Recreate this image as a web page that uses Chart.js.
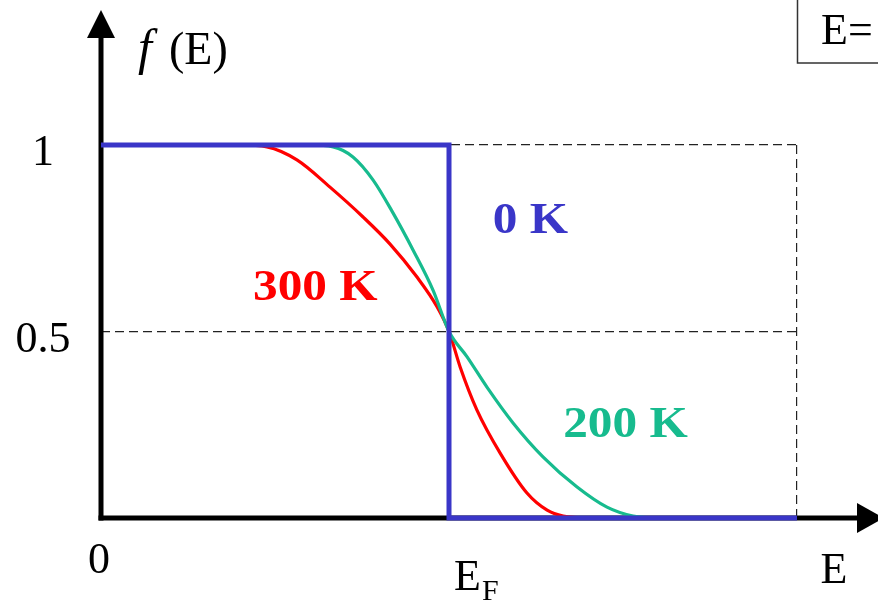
<!DOCTYPE html>
<html>
<head>
<meta charset="utf-8">
<title>f(E)</title>
<script src="https://cdn.jsdelivr.net/npm/chart.js@4"></script>
<style>
  html, body { margin: 0; padding: 0; background: #fff; }
  canvas { display: block; }
</style>
</head>
<body>
<canvas id="fermiChart" width="878" height="600"></canvas>
<script>
// البيانات: الطاقة بوحدات E_F (E_F = 1)
const curve0K = [
  { x: 0, y: 1 }, { x: 1, y: 1 }, { x: 1, y: 0 }, { x: 2, y: 0 }
];
const curve300K = [
  { x: 0, y: 1 }, { x: 0.40, y: 1 }, { x: 0.477, y: 0.995 }, { x: 0.563, y: 0.960 },
  { x: 0.658, y: 0.887 }, { x: 0.753, y: 0.807 }, { x: 0.830, y: 0.735 },
  { x: 0.908, y: 0.646 }, { x: 0.966, y: 0.566 }, { x: 1.0, y: 0.5 },
  { x: 1.032, y: 0.405 }, { x: 1.080, y: 0.290 }, { x: 1.147, y: 0.174 },
  { x: 1.224, y: 0.067 }, { x: 1.282, y: 0.021 }, { x: 1.328, y: 0.005 },
  { x: 1.40, y: 0 }, { x: 2, y: 0 }
];
const curve200K = [
  { x: 0, y: 1 }, { x: 0.60, y: 1 }, { x: 0.667, y: 0.995 }, { x: 0.724, y: 0.968 },
  { x: 0.782, y: 0.906 }, { x: 0.839, y: 0.818 }, { x: 0.897, y: 0.718 },
  { x: 0.954, y: 0.611 }, { x: 1.0, y: 0.5 }, { x: 1.052, y: 0.432 },
  { x: 1.109, y: 0.351 }, { x: 1.184, y: 0.255 }, { x: 1.270, y: 0.164 },
  { x: 1.368, y: 0.083 }, { x: 1.454, y: 0.029 }, { x: 1.529, y: 0.005 },
  { x: 1.60, y: 0 }, { x: 2, y: 0 }
];

// تسميات المحاور
const yTickValues = [1, 0.5];
const yTickLabels = ['1', '0.5'];
const xTickValues = [0, 1, 2];
const xTickLabels = ['0', 'E', 'E'];   // E_F و E

// تسميات المنحنيات (موضعها بإحداثيات البيانات)
const curveLabels = [
  { text: '0 K', x: 1.126, y: 0.764, color: '#3a36c8' },
  { text: '300 K', x: 0.437, y: 0.584, color: '#ff0000' },
  { text: '200 K', x: 1.328, y: 0.217, color: '#17bb8e' }
];

const SERIF = '"Liberation Serif", "DejaVu Serif", serif';

// رسم المحاور والنصوص
const axesPlugin = {
  id: 'axesPlugin',
  beforeDatasetsDraw(chart) {
    const ctx = chart.ctx;
    const xs = chart.scales.x;
    const ys = chart.scales.y;
    const x0 = xs.getPixelForValue(0);
    const y0 = ys.getPixelForValue(0);

    ctx.save();
    ctx.fillStyle = '#000';
    ctx.strokeStyle = '#000';
    ctx.lineWidth = 5;
    ctx.lineCap = 'butt';

    // المحور الرأسي مع السهم
    ctx.beginPath();
    ctx.moveTo(x0, y0 + 2.5);
    ctx.lineTo(x0, 36);
    ctx.stroke();
    ctx.beginPath();
    ctx.moveTo(x0, 10);
    ctx.lineTo(x0 - 14, 38);
    ctx.lineTo(x0 + 14, 38);
    ctx.closePath();
    ctx.fill();

    // المحور الأفقي مع السهم
    ctx.beginPath();
    ctx.moveTo(x0 - 2.5, y0);
    ctx.lineTo(860, y0);
    ctx.stroke();
    ctx.beginPath();
    ctx.moveTo(884, y0);
    ctx.lineTo(857, y0 - 15);
    ctx.lineTo(857, y0 + 15);
    ctx.closePath();
    ctx.fill();
    ctx.restore();
  },
  afterDraw(chart) {
    const ctx = chart.ctx;
    const xs = chart.scales.x;
    const ys = chart.scales.y;
    const y0 = ys.getPixelForValue(0);

    ctx.save();
    ctx.fillStyle = '#000';
    ctx.textBaseline = 'alphabetic';
    ctx.font = '44px ' + SERIF;

    // تسميات المحور الرأسي
    ctx.textAlign = 'center';
    yTickValues.forEach((v, i) => {
      ctx.fillText(yTickLabels[i], 43, ys.getPixelForValue(v) + 20);
    });

    // تسميات المحور الأفقي
    ctx.fillText(xTickLabels[0], xs.getPixelForValue(xTickValues[0]) - 2, y0 + 55);
    ctx.textAlign = 'left';
    ctx.fillText(xTickLabels[1], xs.getPixelForValue(xTickValues[1]) + 5, y0 + 72);
    const eWidth = ctx.measureText(xTickLabels[1]).width;
    ctx.font = '30px ' + SERIF;
    ctx.fillText('F', xs.getPixelForValue(xTickValues[1]) + 6 + eWidth, y0 + 82);
    ctx.font = '44px ' + SERIF;
    ctx.textAlign = 'center';
    ctx.fillText(xTickLabels[2], xs.getPixelForValue(xTickValues[2]) + 37, y0 + 65);

    // عنوان المحور الرأسي f(E)
    ctx.textAlign = 'left';
    ctx.font = 'italic 50px ' + SERIF;
    ctx.fillText('f', 138, 64);
    ctx.font = '46px ' + SERIF;
    ctx.fillText('(E)', 169, 64);

    // الصندوق في الزاوية العليا
    ctx.strokeStyle = '#333';
    ctx.lineWidth = 1.5;
    ctx.strokeRect(797.5, -5, 100, 68);
    ctx.font = '44px ' + SERIF;
    ctx.fillText('E=', 821, 44);

    // تسميات المنحنيات بخط عريض
    ctx.font = 'bold 44px ' + SERIF;
    curveLabels.forEach(l => {
      const px = xs.getPixelForValue(l.x);
      const py = ys.getPixelForValue(l.y);
      ctx.save();
      ctx.translate(px, py);
      ctx.scale(1.12, 1);
      ctx.fillStyle = l.color;
      ctx.fillText(l.text, 0, 0);
      ctx.restore();
    });
    ctx.restore();
  }
};

const ctx = document.getElementById('fermiChart').getContext('2d');

const fermiChart = new Chart(ctx, {
  type: 'line',
  data: {
    datasets: [
      {
        label: '0 K',
        data: curve0K,
        borderColor: '#3a36c8',
        borderWidth: 5,
        borderJoinStyle: 'miter',
        tension: 0,
        pointRadius: 0,
        clip: false
      },
      {
        label: '200 K',
        data: curve200K,
        borderColor: '#17bb8e',
        borderWidth: 3.2,
        cubicInterpolationMode: 'monotone',
        pointRadius: 0,
        clip: false
      },
      {
        label: '300 K',
        data: curve300K,
        borderColor: '#ff0000',
        borderWidth: 3.2,
        cubicInterpolationMode: 'monotone',
        pointRadius: 0,
        clip: false
      }
    ]
  },
  options: {
    responsive: false,
    devicePixelRatio: 1,
    animation: false,
    layout: { padding: { left: 101, right: 81, top: 145, bottom: 82 } },
    plugins: {
      legend: { display: false },
      tooltip: { enabled: false }
    },
    scales: {
      x: {
        type: 'linear',
        min: 0,
        max: 2,
        ticks: { display: false, stepSize: 1 },
        grid: {
          drawTicks: false,
          lineWidth: 1.2,
          color: c => (c.tick && c.tick.value === 2 ? '#222' : 'rgba(0,0,0,0)')
        },
        border: { display: false, dash: [9, 5] }
      },
      y: {
        type: 'linear',
        min: 0,
        max: 1,
        ticks: { display: false, stepSize: 0.5 },
        grid: {
          drawTicks: false,
          lineWidth: 1.2,
          color: c => (c.tick && c.tick.value > 0 ? '#222' : 'rgba(0,0,0,0)')
        },
        border: { display: false, dash: [9, 5] }
      }
    }
  },
  plugins: [axesPlugin]
});
</script>
</body>
</html>
